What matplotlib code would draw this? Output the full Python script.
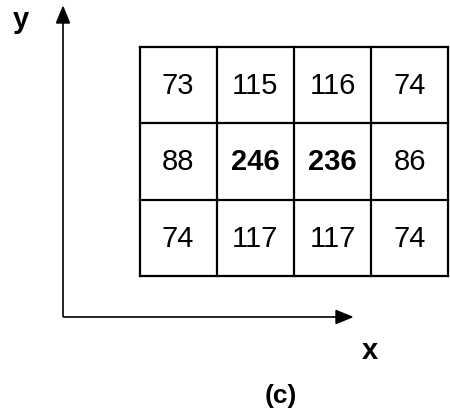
import matplotlib
matplotlib.use("Agg")
import matplotlib.pyplot as plt
from matplotlib.patches import Polygon

plt.rcParams['font.family'] = ['Liberation Sans', 'DejaVu Sans']

values = [
    [73, 115, 116, 74],
    [88, 246, 236, 86],
    [74, 117, 117, 74],
]
bold = [
    [False, False, False, False],
    [False, True, True, False],
    [False, False, False, False],
]
x_label = "x"
y_label = "y"
caption = "(c)"

W, H = 450, 414
fig = plt.figure(figsize=(W / 100, H / 100), dpi=100)

# overlay in pixel coordinates for axes arrows and labels
ov = fig.add_axes([0, 0, 1, 1])
ov.set_xlim(0, W)
ov.set_ylim(H, 0)
ov.axis('off')

lw_ax = 1.2
# y axis
ov.plot([63, 63], [318, 22], color='black', lw=lw_ax, solid_capstyle='butt')
ov.add_patch(Polygon([[56.5, 24], [69.5, 24], [63, 8]], closed=True, color='black'))
# x axis
ov.plot([63, 338], [318, 318], color='black', lw=lw_ax, solid_capstyle='butt')
ov.add_patch(Polygon([[336, 311.5], [336, 324.5], [352, 318]], closed=True, color='black'))

ov.text(21, 20, y_label, fontsize=21, fontweight='bold', ha='center', va='center')
ov.text(370, 351, x_label, fontsize=21, fontweight='bold', ha='center', va='center')
ov.text(281, 396, caption, fontsize=19, fontweight='bold', ha='center', va='center')

# grid
nrows, ncols = len(values), len(values[0])
gx0, gx1, gy0, gy1 = 139.5, 448.5, 48, 277
ax = fig.add_axes([gx0 / W, 1 - gy1 / H, (gx1 - gx0) / W, (gy1 - gy0) / H])
ax.set_xlim(0, ncols)
ax.set_ylim(nrows, 0)
ax.axis('off')
for c in range(ncols + 1):
    ax.plot([c, c], [0, nrows], color='black', lw=1.6, clip_on=False, solid_capstyle='projecting')
for r in range(nrows + 1):
    ax.plot([0, ncols], [r, r], color='black', lw=1.6, clip_on=False, solid_capstyle='projecting')
for r in range(nrows):
    for c in range(ncols):
        ax.text(c + 0.5, r + 0.5, str(values[r][c]), fontsize=21,
                fontweight='bold' if bold[r][c] else 'normal',
                ha='center', va='center')

fig.savefig('out.png', dpi=100)
